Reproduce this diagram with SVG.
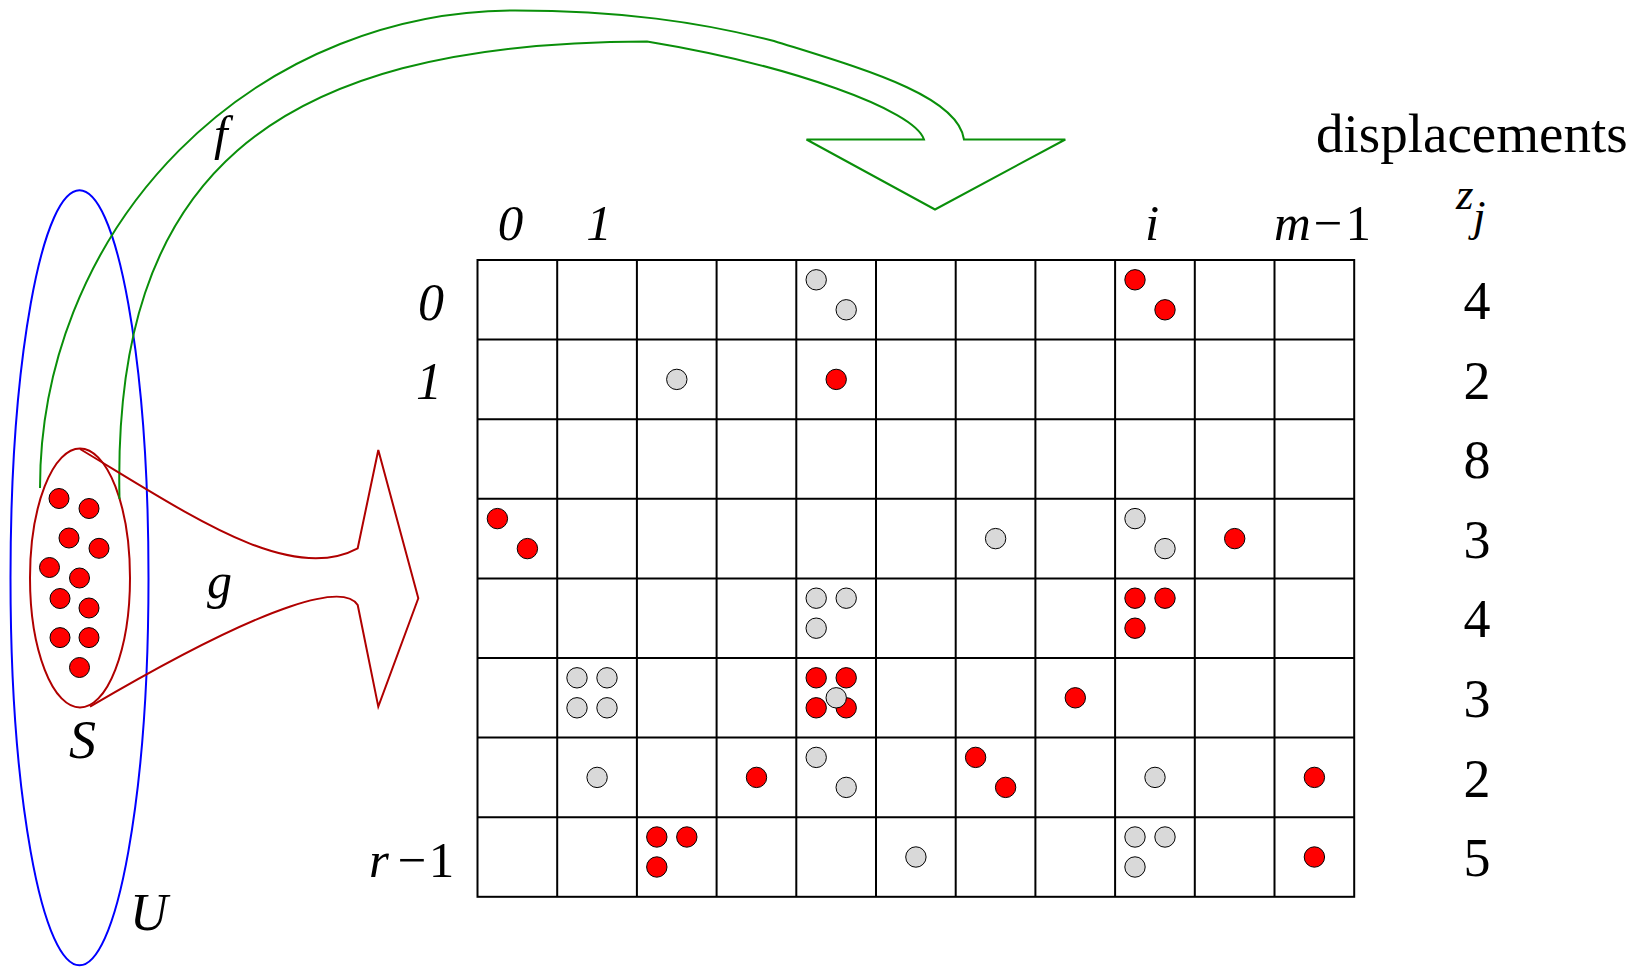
<svg xmlns="http://www.w3.org/2000/svg" width="1641" height="968" viewBox="0 0 1641 968">
<style>
.t{font-family:"Liberation Serif","Times New Roman","DejaVu Serif",serif;fill:#000}
.it{font-style:italic}
.grid{stroke:#000;stroke-width:2;fill:none}
.r{fill:#ff0000;stroke:#000;stroke-width:1}
.g{fill:#d9d9d9;stroke:#000;stroke-width:1}
.green{fill:none;stroke:#0a8f0a;stroke-width:2;stroke-linejoin:miter}
.dred{fill:none;stroke:#b00000;stroke-width:2}
.blue{fill:none;stroke:#0000ff;stroke-width:2}
</style>
<rect width="1641" height="968" fill="#fff"/>

<g id="set-S">
  <ellipse class="dred" cx="80" cy="578" rx="50" ry="129.5"/>
  <circle class="r" cx="59" cy="498.5" r="10"/>
  <circle class="r" cx="89" cy="508.5" r="10"/>
  <circle class="r" cx="69" cy="538" r="10"/>
  <circle class="r" cx="99" cy="548.3" r="10"/>
  <circle class="r" cx="49.5" cy="567.5" r="10"/>
  <circle class="r" cx="79.5" cy="578" r="10"/>
  <circle class="r" cx="60" cy="598.5" r="10"/>
  <circle class="r" cx="89" cy="608" r="10"/>
  <circle class="r" cx="60" cy="637.6" r="10"/>
  <circle class="r" cx="89" cy="637.6" r="10"/>
  <circle class="r" cx="79.5" cy="667.5" r="10"/>
  <text class="t it" x="69" y="758" font-size="54">S</text>
</g>

<g id="set-U">
  <ellipse class="blue" cx="79.5" cy="577.8" rx="69" ry="387.5"/>
  <text class="t it" x="130" y="930" font-size="52">U</text>
</g>

<g id="connectors">
  <g id="arrow-f">
    <path class="green" d="M 40,488 A 475 477.5 0 0 1 515,10.5 C 620,10.5 700,22 774,41 C 860,68 958,95 964,139.5 L 1065.3,139.5 L 935,209.5 L 806.5,139.5 L 924,139.5 C 915,110 790,65 647,41.5 C 265,42 112,180 119.5,499"/>
    <text class="t it" x="214" y="150" font-size="49">f</text>
  </g>
  <g id="arrow-g">
    <path class="dred" d="M 80,449 C 190,515 290,585 357.7,548.3 L 378.3,450 L 418.3,598.3 L 378.3,706.7 L 357.7,605 C 345,585 280,595 90,706.7"/>
    <text class="t it" x="207" y="598" font-size="50">g</text>
  </g>
</g>

<g id="table">
  <rect class="grid" x="477.5" y="260" width="876.7" height="636.8"/>
  <path class="grid" d="M557.2,260V896.8 M636.9,260V896.8 M716.6,260V896.8 M796.3,260V896.8 M876,260V896.8 M955.7,260V896.8 M1035.4,260V896.8 M1115.1,260V896.8 M1194.8,260V896.8 M1274.5,260V896.8
  M477.5,339.6H1354.2 M477.5,419.2H1354.2 M477.5,498.8H1354.2 M477.5,578.4H1354.2 M477.5,658H1354.2 M477.5,737.6H1354.2 M477.5,817.2H1354.2"/>
</g>

<g id="column-labels" class="t" font-size="51">
  <text class="it" x="510.5" y="240" text-anchor="middle">0</text>
  <text class="it" x="599" y="240" text-anchor="middle">1</text>
  <text class="it" x="1152" y="240" text-anchor="middle">i</text>
  <text x="1274" y="240"><tspan class="it">m</tspan><tspan dx="3">−</tspan><tspan dx="3">1</tspan></text>
</g>

<g id="row-labels" class="t" font-size="52">
  <text class="it" x="431" y="320" text-anchor="middle">0</text>
  <text class="it" x="429" y="399" text-anchor="middle">1</text>
  <text x="369" y="877" font-size="51"><tspan class="it">r</tspan><tspan dx="9">−</tspan><tspan dx="2">1</tspan></text>
</g>

<g id="displacements" class="t">
  <text x="1316" y="152" font-size="55">displacements</text>
  <text class="it" x="1456" y="209" font-size="45">z</text>
  <text class="it" x="1473" y="231" font-size="45">j</text>
  <g font-size="54" text-anchor="middle">
    <text x="1477" y="319">4</text>
    <text x="1477" y="398.5">2</text>
    <text x="1477" y="478">8</text>
    <text x="1477" y="557.5">3</text>
    <text x="1477" y="637">4</text>
    <text x="1477" y="717">3</text>
    <text x="1477" y="796.5">2</text>
    <text x="1477" y="876">5</text>
  </g>
</g>

<g id="dots">
  <circle class="g" cx="816.2" cy="279.8" r="10.2"/>
  <circle class="g" cx="846.2" cy="309.8" r="10.2"/>
  <circle class="r" cx="1135" cy="279.8" r="10.2"/>
  <circle class="r" cx="1165" cy="309.8" r="10.2"/>
  <circle class="g" cx="676.8" cy="379.4" r="10.2"/>
  <circle class="r" cx="836.2" cy="379.4" r="10.2"/>
  <circle class="r" cx="497.4" cy="518.6" r="10.2"/>
  <circle class="r" cx="527.4" cy="548.6" r="10.2"/>
  <circle class="g" cx="995.6" cy="538.6" r="10.2"/>
  <circle class="g" cx="1135" cy="518.6" r="10.2"/>
  <circle class="g" cx="1165" cy="548.6" r="10.2"/>
  <circle class="r" cx="1234.7" cy="538.6" r="10.2"/>
  <circle class="g" cx="816.2" cy="598.2" r="10.2"/>
  <circle class="g" cx="846.2" cy="598.2" r="10.2"/>
  <circle class="g" cx="816.2" cy="628.2" r="10.2"/>
  <circle class="r" cx="1135" cy="598.2" r="10.2"/>
  <circle class="r" cx="1165" cy="598.2" r="10.2"/>
  <circle class="r" cx="1135" cy="628.2" r="10.2"/>
  <circle class="g" cx="577" cy="677.8" r="10.2"/>
  <circle class="g" cx="607" cy="677.8" r="10.2"/>
  <circle class="g" cx="577" cy="707.8" r="10.2"/>
  <circle class="g" cx="607" cy="707.8" r="10.2"/>
  <circle class="r" cx="816.2" cy="677.8" r="10.2"/>
  <circle class="r" cx="846.2" cy="677.8" r="10.2"/>
  <circle class="r" cx="816.2" cy="707.8" r="10.2"/>
  <circle class="r" cx="846.2" cy="707.8" r="10.2"/>
  <circle class="g" cx="836.2" cy="697.8" r="10.2"/>
  <circle class="r" cx="1075.3" cy="697.8" r="10.2"/>
  <circle class="g" cx="597.1" cy="777.4" r="10.2"/>
  <circle class="r" cx="756.5" cy="777.4" r="10.2"/>
  <circle class="g" cx="816.2" cy="757.4" r="10.2"/>
  <circle class="g" cx="846.2" cy="787.4" r="10.2"/>
  <circle class="r" cx="975.6" cy="757.4" r="10.2"/>
  <circle class="r" cx="1005.6" cy="787.4" r="10.2"/>
  <circle class="g" cx="1155" cy="777.4" r="10.2"/>
  <circle class="r" cx="1314.4" cy="777.4" r="10.2"/>
  <circle class="r" cx="656.8" cy="837" r="10.2"/>
  <circle class="r" cx="686.8" cy="837" r="10.2"/>
  <circle class="r" cx="656.8" cy="867" r="10.2"/>
  <circle class="g" cx="915.9" cy="857" r="10.2"/>
  <circle class="g" cx="1135" cy="837" r="10.2"/>
  <circle class="g" cx="1165" cy="837" r="10.2"/>
  <circle class="g" cx="1135" cy="867" r="10.2"/>
  <circle class="r" cx="1314.4" cy="857" r="10.2"/>
</g>
</svg>
